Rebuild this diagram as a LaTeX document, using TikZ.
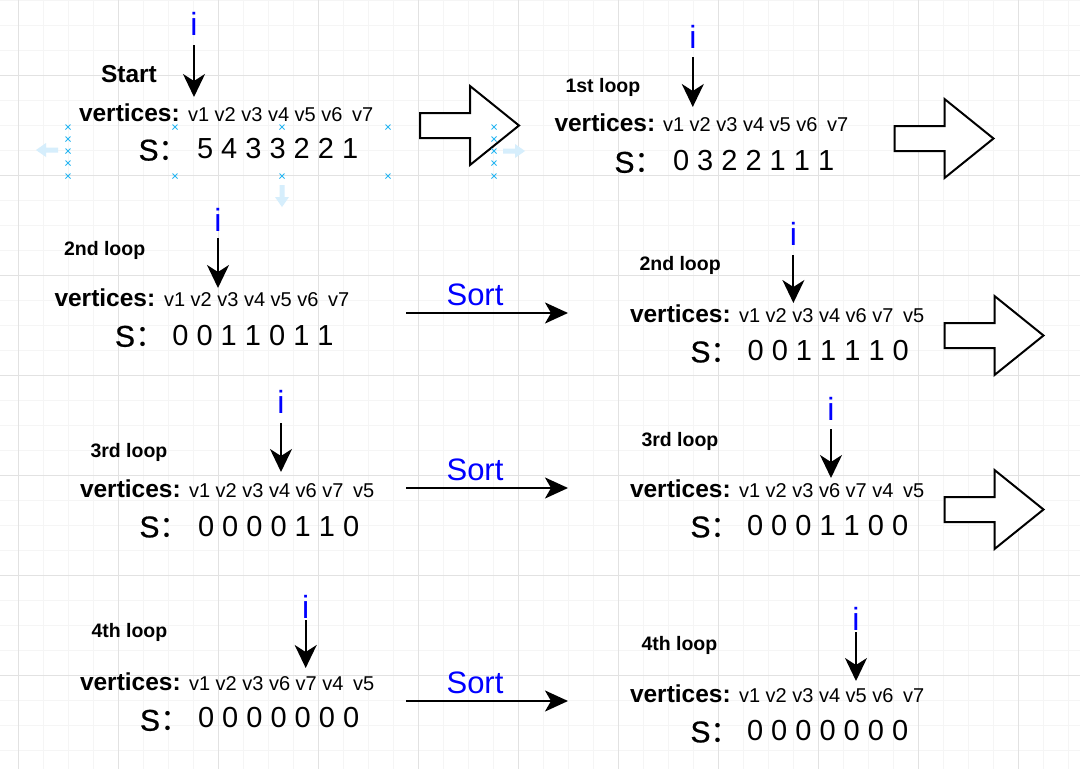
\documentclass[tikz,border=0pt]{standalone}
\usepackage{fontspec}
\setmainfont{Liberation Sans}
\newfontfamily\semiS[FakeBold=0.7]{Liberation Sans}
\newfontfamily\cjkf{Noto Sans CJK SC}
\usetikzlibrary{arrows.meta}
\definecolor{gmaj}{HTML}{E2E2E2}
\definecolor{gmin}{HTML}{F5F5F5}
\definecolor{selblue}{HTML}{29B6F2}
\definecolor{hintblue}{HTML}{D6EEFC}
\definecolor{ptr}{HTML}{0000FF}
\newcommand{\hollowArrow}[2]{%
  \draw[blockarr] (#1,#2-12.5) -- (#1+50,#2-12.5) -- (#1+50,#2-39.5) -- (#1+99,#2)
    -- (#1+50,#2+39.5) -- (#1+50,#2+12.5) -- (#1,#2+12.5) -- cycle;}
\newcommand{\selMark}[2]{%
  \draw[selmark] (#1-2.5,#2-2.5) -- (#1+2.5,#2+2.5) (#1-2.5,#2+2.5) -- (#1+2.5,#2-2.5);}
\newcommand{\Slabel}{{\semiS S}{\cjkf ：}}
\tikzset{
  txt/.style={inner sep=0pt, outer sep=0pt, anchor=base west},
  vtx/.style={txt, font=\fontsize{24.5}{28}\selectfont\bfseries},
  vls/.style={txt, font=\fontsize{20}{24}\selectfont},
  snm/.style={txt, font=\fontsize{29}{34}\selectfont},
  slb/.style={txt, font=\fontsize{30}{34}\selectfont},
  ttl/.style={txt, font=\fontsize{19.5}{23}\selectfont\bfseries},
  sttl/.style={txt, font=\fontsize{24.5}{28}\selectfont\bfseries},
  ilb/.style={inner sep=0pt, outer sep=0pt, anchor=base, text=ptr, font=\fontsize{32}{36}\selectfont},
  srt/.style={inner sep=0pt, outer sep=0pt, anchor=base, text=ptr, font=\fontsize{31}{36}\selectfont},
  iarr/.style={line width=2pt, -{Stealth[length=23pt,width=22pt,inset=7pt]}},
  sarr/.style={line width=2pt, -{Stealth[length=23pt,width=21pt,inset=6pt]}},
  blockarr/.style={draw=black, line width=2pt, fill=white, line join=miter, miter limit=10},
  selmark/.style={draw=selblue, line width=0.8pt},
  hint/.style={fill=hintblue, draw=none},
}
\begin{document}
\begin{tikzpicture}[x=1pt,y=-1pt]
\useasboundingbox (0,0) rectangle (1080,769);
\fill[white] (0,0) rectangle (1080,769);
% grid
\foreach \x in {-7,18,...,1093} \draw[gmin, line width=1pt] (\x,0) -- (\x,769);
\foreach \y in {0,25,...,775} \draw[gmin, line width=1pt] (0,\y) -- (1080,\y);
\foreach \x in {18,118,...,1018} \draw[gmaj, line width=1pt] (\x,0) -- (\x,769);
\foreach \y in {75,175,...,675} \draw[gmaj, line width=1pt] (0,\y) -- (1080,\y);

% ---------- Block 1: Start ----------
\fill[hint] (36,150) -- (46,143) -- (46,147.5) -- (58,147.5) -- (58,152.5) -- (46,152.5) -- (46,157) -- cycle;
\fill[hint] (525,151) -- (515,144) -- (515,148.5) -- (503,148.5) -- (503,153.5) -- (515,153.5) -- (515,158) -- cycle;
\fill[hint] (282,207) -- (275,197) -- (279.5,197) -- (279.5,185) -- (284.5,185) -- (284.5,197) -- (289,197) -- cycle;
\node[ilb] (i1) at (194,35) {i};
\coordinate (i1s) at (194,45); \coordinate (i1e) at (194,97);
\draw[iarr] (i1s) -- (i1e);
\node[sttl] (t1) at (101,82.3) {Start};
\node[vtx] (vx1) at (79,121.7) {vertices:};
\node[vls] (vl1) at (188,121.7) {v1 v2 v3 v4 v5 v6\hspace{0.2em} v7};
\node[slb] (s1) at (138.6,160.5) {\Slabel};
\node[snm] (d1) at (197,158.5) {5 4 3 3 2 2 1};
\hollowArrow{420}{125.5}
\foreach \yy in {127,139,151,163,176} {\selMark{68}{\yy} \selMark{494}{\yy}}
\foreach \xx in {175,282,388} {\selMark{\xx}{127} \selMark{\xx}{176}}

% ---------- Block 2: 1st loop ----------
\node[ilb] (i2) at (692.8,48.3) {i};
\coordinate (i2s) at (692.8,57); \coordinate (i2e) at (692.8,107);
\draw[iarr] (i2s) -- (i2e);
\node[ttl] (t2) at (565.5,92.7) {1st loop};
\node[vtx] (vx2) at (554.5,131.7) {vertices:};
\node[vls] (vl2) at (663,131.7) {v1 v2 v3 v4 v5 v6\hspace{0.2em} v7};
\node[slb] (s2) at (614.5,172.7) {\Slabel};
\node[snm] (d2) at (673,170.5) {0 3 2 2 1 1 1};
\hollowArrow{894.5}{138.5}

% ---------- Block 3: 2nd loop (left) ----------
\node[ilb] (i3) at (218,231.7) {i};
\coordinate (i3s) at (218,238); \coordinate (i3e) at (218,288);
\draw[iarr] (i3s) -- (i3e);
\node[ttl] (t3) at (64,255) {2nd loop};
\node[vtx] (vx3) at (54.5,306.7) {vertices:};
\node[vls] (vl3) at (164,306.7) {v1 v2 v3 v4 v5 v6\hspace{0.2em} v7};
\node[slb] (s3) at (115,346.7) {\Slabel};
\node[snm] (d3) at (172.4,345.6) {0 0 1 1 0 1 1};
\node[srt] (sort1) at (475,305) {Sort};
\coordinate (so1s) at (406,313); \coordinate (so1e) at (568,313);
\draw[sarr] (so1s) -- (so1e);

% ---------- Block 4: 2nd loop (right) ----------
\node[ilb] (i4) at (793.4,245) {i};
\coordinate (i4s) at (793.4,255); \coordinate (i4e) at (793.4,303);
\draw[iarr] (i4s) -- (i4e);
\node[ttl] (t4) at (639.5,270.7) {2nd loop};
\node[vtx] (vx4) at (630,322.7) {vertices:};
\node[vls] (vl4) at (739,322.7) {v1 v2 v3 v4 v6 v7\hspace{0.2em} v5};
\node[slb] (s4) at (690.5,362.3) {\Slabel};
\node[snm] (d4) at (747.6,360) {0 0 1 1 1 1 0};
\hollowArrow{944.5}{335.5}

% ---------- Block 5: 3rd loop (left) ----------
\node[ilb] (i5) at (281,413.3) {i};
\coordinate (i5s) at (281,423); \coordinate (i5e) at (281,472);
\draw[iarr] (i5s) -- (i5e);
\node[ttl] (t5) at (90.5,457.3) {3rd loop};
\node[vtx] (vx5) at (80,497.3) {vertices:};
\node[vls] (vl5) at (189,497.3) {v1 v2 v3 v4 v6 v7\hspace{0.2em} v5};
\node[slb] (s5) at (139.5,537.3) {\Slabel};
\node[snm] (d5) at (198,536) {0 0 0 0 1 1 0};
\node[srt] (sort2) at (475,480) {Sort};
\coordinate (so2s) at (406,488); \coordinate (so2e) at (568,488);
\draw[sarr] (so2s) -- (so2e);

% ---------- Block 6: 3rd loop (right) ----------
\node[ilb] (i6) at (831,420.7) {i};
\coordinate (i6s) at (831,429); \coordinate (i6e) at (831,478);
\draw[iarr] (i6s) -- (i6e);
\node[ttl] (t6) at (641.5,446) {3rd loop};
\node[vtx] (vx6) at (630,497.3) {vertices:};
\node[vls] (vl6) at (739,497.3) {v1 v2 v3 v6 v7 v4\hspace{0.2em} v5};
\node[slb] (s6) at (690.5,537.3) {\Slabel};
\node[snm] (d6) at (747,535.7) {0 0 0 1 1 0 0};
\hollowArrow{944.5}{509.5}

% ---------- Block 7: 4th loop (left) ----------
\node[ilb] (i7) at (305.7,618.3) {i};
\coordinate (i7s) at (305.7,620); \coordinate (i7e) at (305.7,668);
\draw[iarr] (i7s) -- (i7e);
\node[ttl] (t7) at (91.5,637.3) {4th loop};
\node[vtx] (vx7) at (80,690) {vertices:};
\node[vls] (vl7) at (189,690) {v1 v2 v3 v6 v7 v4\hspace{0.2em} v5};
\node[slb] (s7) at (140,730.7) {\Slabel};
\node[snm] (d7) at (198,727.3) {0 0 0 0 0 0 0};
\node[srt] (sort3) at (475,693) {Sort};
\coordinate (so3s) at (406,701); \coordinate (so3e) at (568,701);
\draw[sarr] (so3s) -- (so3e);

% ---------- Block 8: 4th loop (right) ----------
\node[ilb] (i8) at (856,630.7) {i};
\coordinate (i8s) at (856,632); \coordinate (i8e) at (856,681);
\draw[iarr] (i8s) -- (i8e);
\node[ttl] (t8) at (641.5,650.7) {4th loop};
\node[vtx] (vx8) at (630,702.7) {vertices:};
\node[vls] (vl8) at (739,702.7) {v1 v2 v3 v4 v5 v6\hspace{0.2em} v7};
\node[slb] (s8) at (690.5,742.3) {\Slabel};
\node[snm] (d8) at (747,740.7) {0 0 0 0 0 0 0};
\end{tikzpicture}
\end{document}
